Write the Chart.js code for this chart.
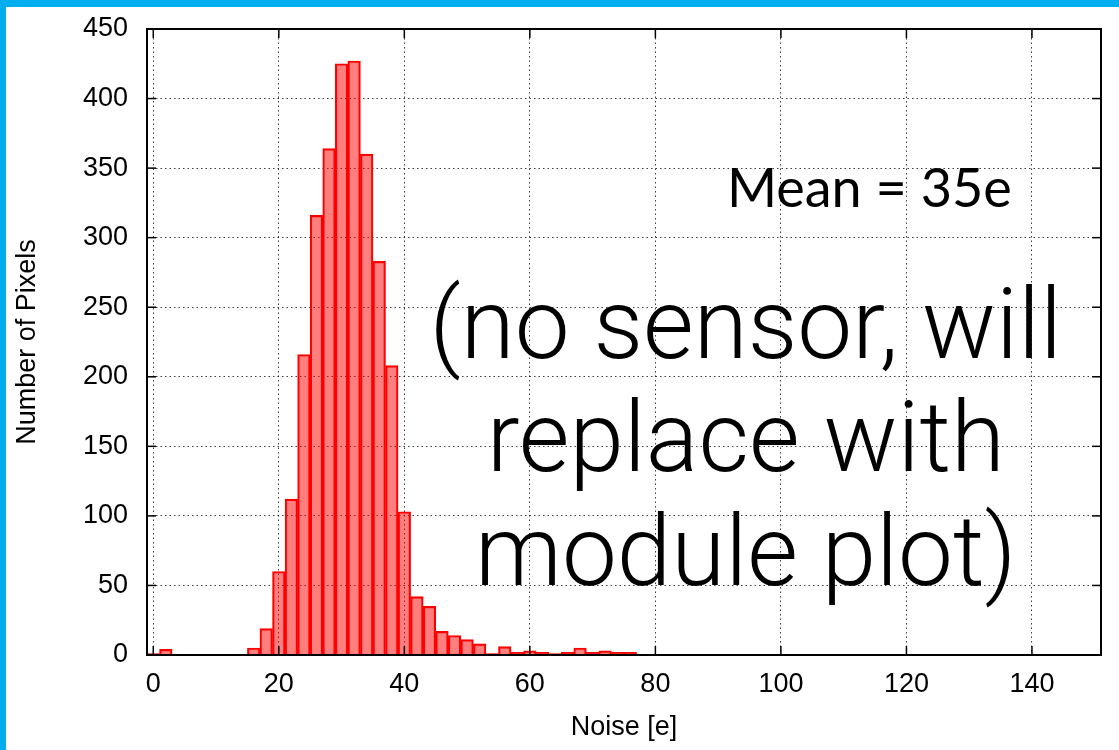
<!DOCTYPE html>
<html><head><meta charset="utf-8">
<script src="https://cdn.jsdelivr.net/npm/chart.js@4.4.1/dist/chart.umd.min.js"></script>
<style>
html,body{margin:0;padding:0;background:#fff;}
#wrap{position:absolute;left:0;top:0;width:1113px;height:743px;border-left:6px solid #00AEEF;border-top:7px solid #00AEEF;background:#fff;}
canvas{display:block;}
</style></head><body>
<div id="wrap"><canvas id="c" width="1113" height="743"></canvas></div>
<script>
// ---- data ----
const binCenters = [0,2,4,6,8,10,12,14,16,18,20,22,24,26,28,30,32,34,36,38,40,42,44,46,48,50,52,54,56,58,60,62,64,66,68,70,72,74,76];
const pixelCounts = [1,4,0,0,0,0,0,0,5,19,60,112,216,316,364,425,427,360,283,208,103,42,35,17,14,11,8,1,6,2,3,2,1,2,5,2,3,2,2];
const xTickValues = [0,20,40,60,80,100,120,140];
const yTickValues = [0,50,100,150,200,250,300,350,400,450];
const xAxisTitle = 'Noise [e]';
const yAxisTitle = 'Number of Pixels';
const meanLabel = 'Mean = 35e';
const noteLines = ['(no sensor, will', 'replace with', 'module plot)'];

Chart.defaults.font.family = "'Liberation Sans', Arial, Helvetica, sans-serif";
Chart.defaults.color = '#000';

const frameAndText = {
  id: 'frameAndText',
  afterDatasetsDraw(chart) {
    const {ctx, chartArea: a, scales: {x, y}} = chart;
    ctx.save();
    ctx.strokeStyle = '#000';
    ctx.lineWidth = 2;
    ctx.strokeRect(a.left, a.top, a.right - a.left, a.bottom - a.top);
    ctx.lineWidth = 1.5;
    const seg = (x1, y1, x2, y2) => { ctx.beginPath(); ctx.moveTo(x1, y1); ctx.lineTo(x2, y2); ctx.stroke(); };
    xTickValues.forEach(v => {
      const px = x.getPixelForValue(v);
      seg(px, a.bottom, px, a.bottom - 9);
      seg(px, a.top, px, a.top + 9);
    });
    yTickValues.forEach(v => {
      const py = y.getPixelForValue(v);
      seg(a.left, py, a.left + 9, py);
      seg(a.right, py, a.right - 9, py);
    });
    // annotations
    ctx.fillStyle = '#000';
    ctx.textBaseline = 'alphabetic';
    ctx.textAlign = 'right';
    ctx.font = "54px Lato, 'Open Sans', sans-serif";
    ctx.fillText(meanLabel, x.getPixelForValue(136.8), y.getPixelForValue(322));
    ctx.textAlign = 'center';
    ctx.font = "300 98px Roboto, Inter, Lato, sans-serif";
    const baselines = [213.7, 132.1, 50];
    noteLines.forEach((t, i) => {
      ctx.fillText(t, x.getPixelForValue(94.4), y.getPixelForValue(baselines[i]));
    });
    ctx.restore();
  }
};

const noEdgePadding = s => { s.paddingTop = 0; s.paddingBottom = 0; s.paddingLeft = 0; s.paddingRight = 0; };

new Chart(document.getElementById('c'), {
  type: 'bar',
  data: {
    datasets: [{
      data: binCenters.map((v, i) => ({x: v, y: pixelCounts[i]})),
      backgroundColor: 'rgba(255,0,0,0.5)',
      borderColor: '#ff0000',
      borderWidth: 1.5,
      borderSkipped: 'start',
      barPercentage: 1,
      categoryPercentage: 1
    }]
  },
  options: {
    responsive: false,
    animation: false,
    devicePixelRatio: 1,
    layout: {padding: {left: 0, top: 22, right: 18, bottom: 0}},
    plugins: {legend: {display: false}, tooltip: {enabled: false}},
    scales: {
      x: {
        type: 'linear', min: -1, max: 151, offset: false,
        afterBuildTicks: s => { s.ticks = xTickValues.map(v => ({value: v})); },
        afterFit: s => { s.height = 95; noEdgePadding(s); },
        ticks: {font: {size: 27}, color: '#000', padding: 13, maxRotation: 0, autoSkip: false},
        grid: {offset: false, color: 'rgba(0,0,0,0.75)', lineWidth: 1, drawTicks: false, borderDash: [1.5, 3]},
        border: {display: false, dash: [1.5, 3]},
        title: {display: true, text: xAxisTitle, font: {size: 27}, color: '#000', padding: {top: 0, bottom: 6}}
      },
      y: {
        type: 'linear', min: 0, max: 450,
        afterBuildTicks: s => { s.ticks = yTickValues.map(v => ({value: v})); },
        afterFit: s => { s.width = 141; noEdgePadding(s); },
        ticks: {font: {size: 27}, color: '#000', padding: 19},
        grid: {color: 'rgba(0,0,0,0.75)', lineWidth: 1, drawTicks: false, borderDash: [1.5, 3]},
        border: {display: false, dash: [1.5, 3]},
        title: {display: true, text: yAxisTitle, font: {size: 27}, color: '#000', padding: {top: 5, bottom: 0}}
      }
    }
  },
  plugins: [frameAndText]
});
</script>
</body></html>
